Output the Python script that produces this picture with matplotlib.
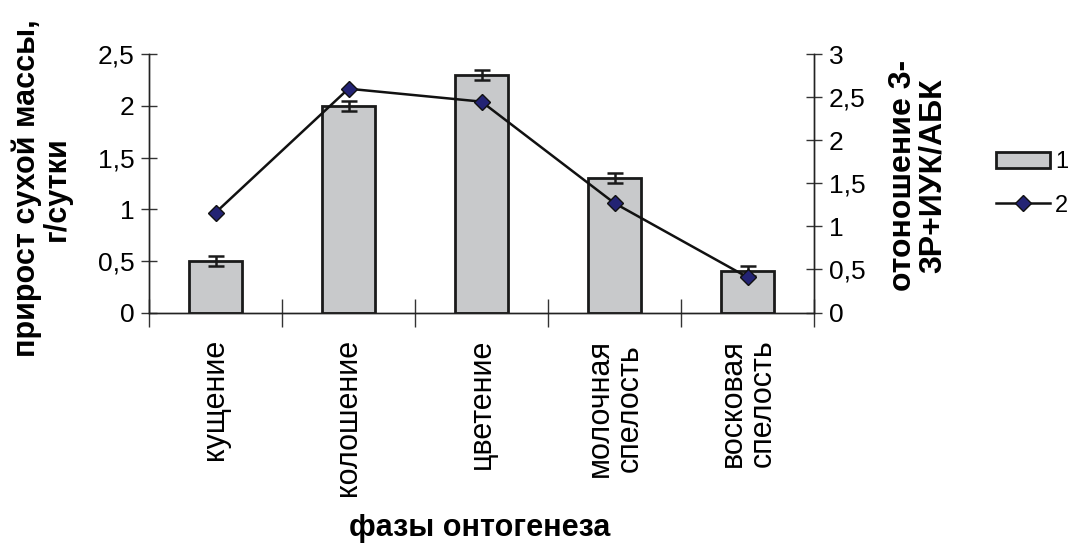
import matplotlib
matplotlib.use("Agg")
import matplotlib.pyplot as plt
import numpy as np
from matplotlib.ticker import FuncFormatter, FixedLocator

plt.rcParams['font.family'] = ['Liberation Sans', 'DejaVu Sans']

# Growth phases
phases = ["кущение", "колошение", "цветение", "молочная\nспелость", "восковая\nспелость"]
# 1: dry-mass gain, g/day (left axis)
dry_mass_gain = [0.5, 2.0, 2.3, 1.3, 0.4]
dry_mass_err = [0.05, 0.05, 0.05, 0.05, 0.05]
# 2: hormone ratio (right axis)
hormone_ratio = [1.16, 2.60, 2.45, 1.27, 0.41]

left_ticks = [0, 0.5, 1, 1.5, 2, 2.5]
right_ticks = [0, 0.5, 1, 1.5, 2, 2.5, 3]

def comma(v, pos=None):
    return ("%g" % v).replace(".", ",")

fig = plt.figure(figsize=(10.71, 5.50), dpi=100)
ax = fig.add_axes([149/1071, 1 - 312.5/550, (814-149)/1071, (312.5-54.3)/550])
ax2 = ax.twinx()

x = np.arange(len(phases))
bars = ax.bar(x, dry_mass_gain, width=0.4, color="#c8c9cb", edgecolor="#1a1a1a",
              linewidth=2.0, label="1", zorder=2)
ax.errorbar(x, dry_mass_gain, yerr=dry_mass_err, fmt="none", ecolor="#1a1a1a",
            elinewidth=1.8, capsize=6, capthick=1.8, zorder=3)

line, = ax2.plot(x, hormone_ratio, color="#111111", linewidth=1.8, marker="D",
                 markersize=8, markerfacecolor="#232374", markeredgecolor="#111111",
                 markeredgewidth=1.0, label="2", zorder=4)

ax.set_xlim(-0.5, len(phases) - 0.5)
ax.set_ylim(0, 2.5)
ax2.set_ylim(0, 3)

ax.set_yticks(left_ticks)
ax2.set_yticks(right_ticks)
ax.yaxis.set_major_formatter(FuncFormatter(comma))
ax2.yaxis.set_major_formatter(FuncFormatter(comma))

for a in (ax, ax2):
    a.spines["top"].set_visible(False)
    for s in ("left", "right", "bottom"):
        a.spines[s].set_color("#222222")
        a.spines[s].set_linewidth(1.0)
    a.tick_params(axis="y", direction="inout", length=11, width=1.0,
                  color="#333333", labelsize=19, pad=5)

ax.set_xticks(x)
ax.set_xticklabels(phases, rotation=90, fontsize=22, va="top", ha="center",
                   multialignment="center", linespacing=1.0)
ax.tick_params(axis="x", which="major", length=0, pad=19)
ax.xaxis.set_minor_locator(FixedLocator(np.arange(-0.5, len(phases), 1.0)))
ax.tick_params(axis="x", which="minor", direction="inout", length=20, width=1.0,
               color="#333333")

ax.set_ylabel("прирост сухой массы,\nг/сутки", fontsize=22, fontweight="bold",
              linespacing=1.0)
ax.yaxis.set_label_coords(-0.116, 0.48)
ax2.set_ylabel("отоношение 3-\n3Р+ИУК/АБК", fontsize=23, fontweight="bold",
               linespacing=1.0, rotation=90)
ax2.yaxis.set_label_coords(1.111, 0.53)

fig.text(480/1071, 1 - 528/550, "фазы онтогенеза", fontsize=22, fontweight="bold",
         ha="center", va="center")

fig.legend(handles=[bars, line], labels=["1", "2"], loc="center left",
           bbox_to_anchor=(996/1071, 1 - 184/550), frameon=False, fontsize=17,
           handlelength=2.3, handleheight=0.7, handletextpad=0.2, labelspacing=0.9,
           borderpad=0, borderaxespad=0)

fig.savefig("out.png", dpi=100, facecolor="white")
